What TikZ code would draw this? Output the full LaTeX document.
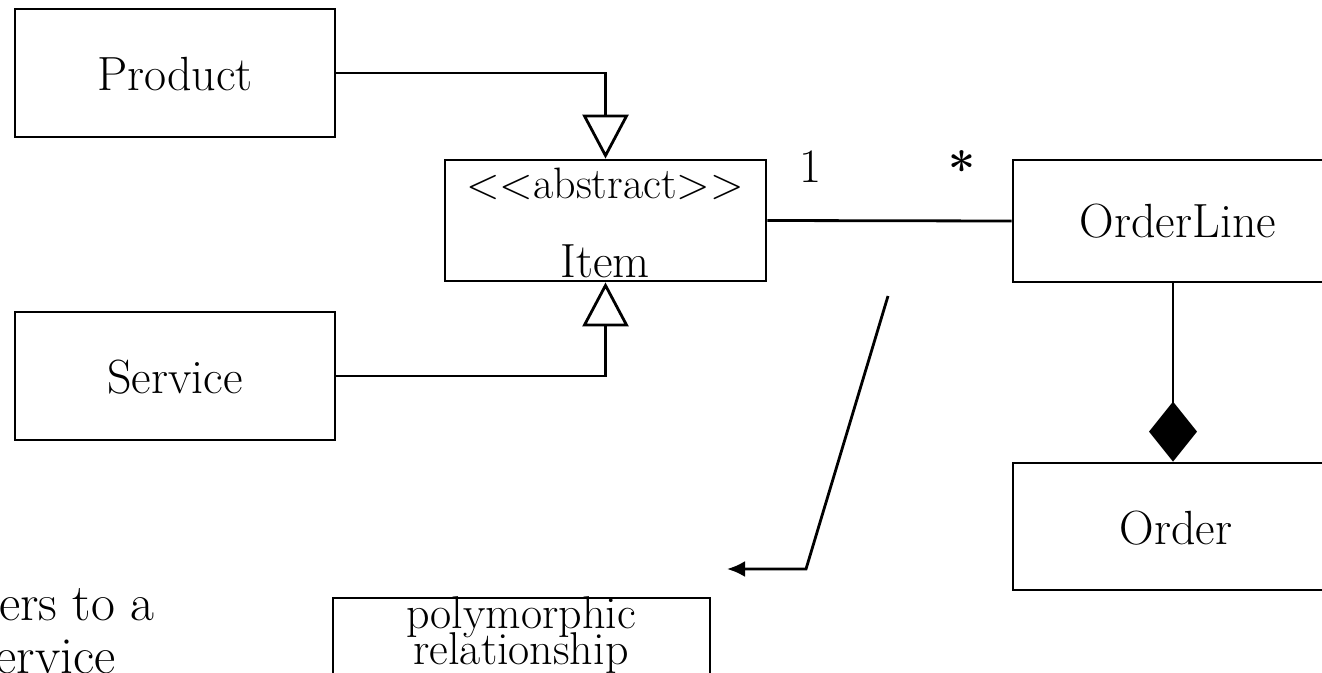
\documentclass[tikz,border=0pt]{standalone}
\usepackage{fontspec}
\usetikzlibrary{arrows.meta}
\tikzset{
  box/.style={draw, line width=2.8pt, inner sep=0pt, rectangle},
  lbl/.style={inner sep=0pt, anchor=base, font=\fontsize{48}{52}\selectfont},
  conn/.style={line width=2.8pt},
  gen/.style={conn, -{Triangle[open, width=46pt, length=44pt, line width=2.8pt]}},
  comp/.style={conn, -{Diamond[fill=black, width=48pt, length=60pt, line width=0pt]}},
  note/.style={conn, -{Latex[length=18pt, width=16pt]}},
}
\begin{document}
\begin{tikzpicture}[x=1pt, y=-1pt]
\useasboundingbox (0,0) rectangle (1322,672);
\clip (0,0) rectangle (1322,672);
% boxes
\node[box, minimum width=320pt, minimum height=128pt] (product) at (175,73) {};
\node[box, minimum width=320pt, minimum height=128pt] (service) at (175,376) {};
\node[box, minimum width=321pt, minimum height=121pt] (item) at (605.5,220.5) {};
\node[box, minimum width=387pt, minimum height=122pt] (orderline) at (1206.5,221) {};
\node[box, minimum width=387pt, minimum height=127pt] (order) at (1206.5,526.5) {};
\node[box, minimum width=377pt, minimum height=102pt] (poly) at (521.5,649) {};
% texts
\node[lbl] (tproduct) at (175,90) {Product};
\node[lbl] (tservice) at (175,393) {Service};
\node[lbl, font=\fontsize{44}{48}\selectfont] (tabs) at (605,198) {<{}<abstract>{}>};
\node[lbl] (titem) at (605,277) {Item};
\node[lbl] (torderline) at (1178,237) {OrderLine};
\node[lbl] (torder) at (1176,544) {Order};
\node[lbl] (tone) at (811,182) {1};
\node[lbl] (tstar) at (962,186) {\textbf{*}};
\node[lbl, font=\fontsize{46}{50}\selectfont] (tpoly1) at (521,628) {polymorphic};
\node[lbl, font=\fontsize{46}{50}\selectfont] (tpoly2) at (521,664) {relationship};
\node[inner sep=0pt, anchor=base east, font=\fontsize{52}{56}\selectfont] (tref1) at (155,620) {ers to a};
\node[inner sep=0pt, anchor=base east, font=\fontsize{52}{56}\selectfont] (tref2) at (116,673) {ervice};
% connectors
\draw[gen] (product.east) -| (item.north);
\draw[gen] (service.east) -| (item.south);
\draw[conn] (item.east) -- (orderline.west);
\draw[comp] ([xshift=-33.5pt]orderline.south) -- ([xshift=-33.5pt]order.north);
\coordinate (ptop) at (888,296);
\coordinate (pbend) at (806,569);
\coordinate (ptip) at (727,569);
\draw[note] (ptop) -- (pbend) -- (ptip);
\end{tikzpicture}
\end{document}
